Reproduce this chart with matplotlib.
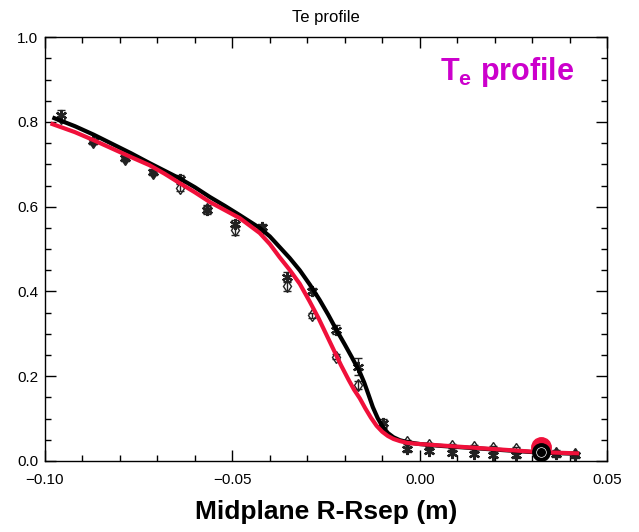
import matplotlib
matplotlib.use("Agg")
import matplotlib.pyplot as plt
from matplotlib.ticker import MultipleLocator

plt.rcParams['font.family'] = ['Liberation Sans', 'DejaVu Sans']
plt.rcParams['mathtext.fontset'] = 'custom'
plt.rcParams['mathtext.bf'] = 'Liberation Sans:bold'
plt.rcParams['mathtext.rm'] = 'Liberation Sans'

# measured points (x in m, Te normalised)
pts_x = [-0.0958, -0.0873, -0.0787, -0.0712, -0.0640, -0.0568, -0.0494, -0.0422,
         -0.0355, -0.0288, -0.0224, -0.0165, -0.0099, -0.0035, 0.0024, 0.0085,
         0.0144, 0.0195, 0.0256, 0.0363, 0.0414]
star_y = [0.816, 0.755, 0.716, 0.683, 0.665, 0.592, 0.560, 0.552,
          0.435, 0.400, 0.310, 0.222, 0.090, 0.028, 0.024, 0.019,
          0.017, 0.015, 0.013, 0.016, 0.014]
star_err = [0.012, 0.006, 0.006, 0.006, 0.010, 0.010, 0.008, 0.008,
            0.012, 0.008, 0.010, 0.020, 0.010, 0.006, 0.006, 0.006,
            0.006, 0.006, 0.006, 0.006, 0.006]
diam_y = [0.810, 0.752, 0.712, 0.680, 0.645, 0.595, 0.545, 0.548,
          0.412, 0.344, 0.246, 0.179, 0.085, 0.045, 0.038, 0.035,
          0.033, 0.031, 0.028, 0.020, 0.017]
diam_err = [0.008, 0.005, 0.005, 0.005, 0.008, 0.008, 0.012, 0.006,
            0.012, 0.006, 0.006, 0.010, 0.008, 0.005, 0.005, 0.005,
            0.005, 0.005, 0.005, 0.005, 0.005]

# fitted profiles
black_x = [-0.0975, -0.092, -0.087, -0.082, -0.077, -0.0721, -0.0681, -0.0641,
           -0.060, -0.056, -0.052, -0.048, -0.0427, -0.040, -0.0374, -0.0347,
           -0.032, -0.0293, -0.0267, -0.0244, -0.0222, -0.020, -0.018, -0.016,
           -0.0148, -0.0136, -0.0125, -0.0112, -0.0099, -0.0085, -0.007,
           -0.0053, -0.0035, -0.0015, 0.0, 0.005, 0.010, 0.015, 0.020, 0.025,
           0.030, 0.035, 0.042]
black_y = [0.809, 0.790, 0.770, 0.748, 0.726, 0.703, 0.685, 0.667,
           0.646, 0.623, 0.602, 0.580, 0.550, 0.530, 0.505, 0.479,
           0.450, 0.416, 0.380, 0.345, 0.309, 0.275, 0.243, 0.210,
           0.185, 0.155, 0.127, 0.101, 0.081, 0.066, 0.056,
           0.049, 0.045, 0.042, 0.040, 0.036, 0.033, 0.030, 0.027, 0.024,
           0.021, 0.019, 0.017]
red_x = [-0.098, -0.092, -0.087, -0.082, -0.077, -0.0721, -0.0681, -0.0641,
         -0.060, -0.056, -0.052, -0.048, -0.0427, -0.040, -0.0374, -0.0347,
         -0.032, -0.0294, -0.027, -0.025, -0.023, -0.021, -0.019, -0.0175,
         -0.016, -0.0145, -0.013, -0.0115, -0.010, -0.0085, -0.007, -0.0053,
         -0.0035, -0.0015, 0.0, 0.005, 0.010, 0.015, 0.020, 0.025, 0.030,
         0.035, 0.042]
red_y = [0.795, 0.776, 0.757, 0.737, 0.717, 0.698, 0.678, 0.656,
         0.634, 0.611, 0.592, 0.573, 0.538, 0.512, 0.481, 0.451,
         0.418, 0.377, 0.337, 0.300, 0.263, 0.226, 0.192, 0.168,
         0.148, 0.124, 0.102, 0.083, 0.069, 0.059, 0.052, 0.047,
         0.043, 0.041, 0.040, 0.037, 0.034, 0.031, 0.028, 0.025, 0.022,
         0.020, 0.018]

# separatrix markers
circ_x = 0.0323
circ_red_y = 0.034
circ_black_y = 0.022

fig = plt.figure(figsize=(6.39, 5.32), dpi=100)
ax = fig.add_axes([0.0704, 0.1335, 0.8796, 0.7965])

ax.errorbar(pts_x, diam_y, yerr=diam_err, fmt='d', mfc='none', mec='#222222',
            ms=6, mew=1.0, ecolor='#222222', elinewidth=1, capsize=3, zorder=2)
ax.errorbar(pts_x, star_y, yerr=star_err, fmt='none', ecolor='#222222',
            elinewidth=1, capsize=3, zorder=2)
ax.plot(pts_x, star_y, ls='none', marker=(6, 2, 0), color='#222222',
        ms=8, mew=1.6, zorder=2)

ax.plot(black_x, black_y, color='black', lw=3, zorder=3, solid_joinstyle='round')
ax.plot(red_x, red_y, color='#f0103a', lw=3, zorder=4, solid_joinstyle='round')

ax.plot(circ_x, circ_red_y, 'o', color='#f0103a', ms=14, zorder=5)
ax.plot(circ_x, circ_black_y, 'o', color='black', mec='black', ms=12.5, zorder=6)
ax.plot(circ_x, circ_black_y, 'o', mfc='none', mec='white', mew=0.5, ms=7, zorder=7)

ax.set_xlim(-0.10, 0.05)
ax.set_ylim(0.0, 1.0)
ax.xaxis.set_major_locator(MultipleLocator(0.05))
ax.xaxis.set_minor_locator(MultipleLocator(0.01))
ax.yaxis.set_major_locator(MultipleLocator(0.2))
ax.yaxis.set_minor_locator(MultipleLocator(0.05))
ax.xaxis.set_major_formatter(plt.FuncFormatter(lambda v, p: f"{v:.2f}".replace('-', '\u2212')))
ax.yaxis.set_major_formatter(plt.FuncFormatter(lambda v, p: f"{v:.1f}"))
ax.tick_params(which='both', direction='in', top=True, right=True, labelsize=11,
               width=1)
ax.tick_params(which='major', length=8)
ax.tick_params(axis='x', which='major', pad=9)
ax.tick_params(axis='y', which='major', pad=5)
ax.tick_params(which='minor', length=4)
for s in ax.spines.values():
    s.set_linewidth(1)

ax.set_title('Te profile', fontsize=12, pad=11)
ax.set_xlabel('Midplane R-Rsep (m)', fontsize=19, fontweight='bold', labelpad=9)
ax.text(0.822, 0.917, r'$\mathbf{T_e}$ profile', transform=ax.transAxes,
        fontsize=22, fontweight='bold', color='#cc00cc', ha='center', va='center')

fig.savefig('out.png', dpi=100)
